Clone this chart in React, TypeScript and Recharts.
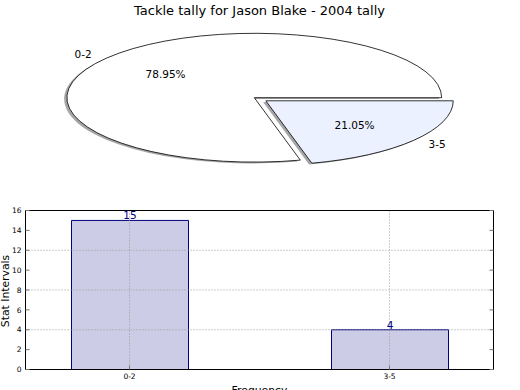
import React from "react";
import { PieChart, Pie, BarChart, Bar, XAxis, YAxis, CartesianGrid, LabelList } from "recharts";

const CATEGORIES = ["0-2", "3-5"];
const TALLY = [15, 4];
const Y_TICKS = [0, 2, 4, 6, 8, 10, 12, 14, 16];
const X_TICKS = [0, 1];

const SLICE_COLORS = ["#ffffff", "#ebf1fe"];
const EXPLODE = [0, 0.078];
const SQUASH = 64.4 / 187.4;
const NAVY = "#000080";
const FONT = "'DejaVu Sans', sans-serif";
const RAD = Math.PI / 180;

const pieData = CATEGORIES.map((name, i) => ({ name, value: TALLY[i] }));
const barData = CATEGORIES.map((name, i) => ({ idx: i, name, value: TALLY[i] }));

// matplotlib-style squashed pie: recharts gives the angles, we draw an ellipse
function EllipseSlice(props: any) {
  const { cx, cy, outerRadius: r, startAngle, endAngle, percent, name, index } = props;
  const ry = r * SQUASH;
  const mid = (startAngle + endAngle) / 2;
  const e = EXPLODE[index] * r;
  const ox = cx + e * Math.cos(mid * RAD);
  const oy = cy - e * SQUASH * Math.sin(mid * RAD);
  const at = (a: number, k: number, dx = 0, dy = 0) => [
    ox + dx + k * r * Math.cos(a * RAD),
    oy + dy - k * ry * Math.sin(a * RAD),
  ];
  const path = (dx: number, dy: number) => {
    const [x0, y0] = at(startAngle, 1, dx, dy);
    const [x1, y1] = at(endAngle, 1, dx, dy);
    const large = Math.abs(endAngle - startAngle) > 180 ? 1 : 0;
    return `M${ox + dx},${oy + dy}L${x0},${y0}A${r},${ry} 0 ${large} 0 ${x1},${y1}Z`;
  };
  const [lx, ly] = at(mid, 1.1);
  const [px, py] = at(mid, 0.6);
  const c = Math.cos(mid * RAD);
  return (
    <g>
      <path d={path(-2.8, 1.3)} fill="rgb(77,77,77)" fillOpacity={0.5} stroke="none" />
      <path d={path(0, 0)} fill={SLICE_COLORS[index]} stroke="#000" strokeWidth={0.8} />
      <text x={px} y={py} textAnchor="middle" dominantBaseline="central" fontSize={10.5} fontFamily={FONT} fill="#000">
        {(percent * 100).toFixed(2)}%
      </text>
      <text x={lx} y={ly} textAnchor={c < 0 ? "end" : "start"} dominantBaseline="central" fontSize={10.5} fontFamily={FONT} fill="#000">
        {name}
      </text>
    </g>
  );
}

export default function App() {
  const tickStyle = { fontSize: 7.5, fontFamily: FONT, fill: "#000" };
  return (
    <div style={{ position: "absolute", left: 0, top: 0, width: 520, height: 390, overflow: "hidden", background: "#fff" }}>
      <div style={{ position: "absolute", left: 0, top: 0 }}>
        <PieChart width={520} height={200} margin={{ top: 0, right: 0, bottom: 0, left: 0 }}>
          <Pie
            data={pieData}
            dataKey="value"
            nameKey="name"
            cx={254.3}
            cy={97.7}
            outerRadius={187.4}
            startAngle={0}
            endAngle={360}
            fill="transparent"
            stroke="none"
            labelLine={false}
            label={EllipseSlice}
            isAnimationActive={false}
          />
        </PieChart>
      </div>
      <div style={{ position: "absolute", left: 0, top: 0 }}>
        <BarChart width={520} height={390} data={barData} margin={{ top: 205.5, right: 22.5, bottom: 0.5, left: 7.5 }}>
          <Bar dataKey="value" xAxisId="b" yAxisId="l" barSize={117} fill="#ccccE6" stroke={NAVY} strokeWidth={1} isAnimationActive={false}>
            <LabelList dataKey="value" position="top" offset={1} fill={NAVY} fontSize={10.5} fontFamily={FONT} />
          </Bar>
          {/* grid sits on top of the bars, like the old matplotlib default */}
          <CartesianGrid xAxisId="b" yAxisId="l" stroke="#9a9a9a" strokeDasharray="1 2" zIndex={450} />
          <XAxis
            xAxisId="b"
            dataKey="idx"
            type="number"
            domain={[-0.4, 1.4]}
            allowDataOverflow
            ticks={X_TICKS}
            tickFormatter={(v: number) => CATEGORIES[v] ?? ""}
            height={20}
            tickSize={-4}
            tickMargin={8}
            axisLine={{ stroke: "#000" }}
            tickLine={{ stroke: "#777" }}
            tick={tickStyle}
          />
          <XAxis
            xAxisId="t"
            orientation="top"
            type="number"
            domain={[-0.4, 1.4]}
            allowDataOverflow
            ticks={X_TICKS}
            tickFormatter={() => ""}
            height={5}
            tickSize={-4}
            axisLine={{ stroke: "#000" }}
            tickLine={{ stroke: "#777" }}
          />
          <YAxis
            yAxisId="l"
            domain={[0, 16]}
            ticks={Y_TICKS}
            width={18}
            tickSize={-4}
            tickMargin={8}
            axisLine={{ stroke: "#000" }}
            tickLine={{ stroke: "#777" }}
            tick={tickStyle}
          />
          <YAxis
            yAxisId="r"
            orientation="right"
            domain={[0, 16]}
            allowDataOverflow
            ticks={Y_TICKS}
            width={4}
            tickSize={-4}
            tickFormatter={() => ""}
            axisLine={{ stroke: "#000" }}
            tickLine={{ stroke: "#777" }}
          />
        </BarChart>
      </div>
      <svg width={520} height={390} style={{ position: "absolute", left: 0, top: 0, pointerEvents: "none" }}>
        <text x={259.5} y={14.5} textAnchor="middle" fontSize={13} fontFamily={FONT} fill="#000">
          Tackle tally for Jason Blake - 2004 tally
        </text>
        <text x={8.5} y={291} textAnchor="middle" transform="rotate(-90 8.5 291)" fontSize={10.8} fontFamily={FONT} fill="#000">
          Stat Intervals
        </text>
        <text x={259.5} y={393.5} textAnchor="middle" fontSize={10.8} fontFamily={FONT} fill="#000">
          Frequency
        </text>
      </svg>
    </div>
  );
}
